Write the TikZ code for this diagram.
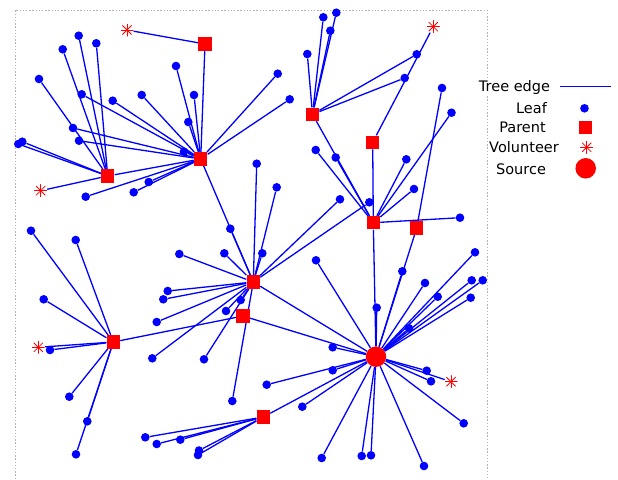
\documentclass[tikz,border=0pt]{standalone}
\usepackage{fontspec}
\newfontfamily\legfont{DejaVu Sans}
\usetikzlibrary{backgrounds}
\begin{document}
\begin{tikzpicture}[x=1pt,y=-1pt,
  edge/.style={draw=blue, line width=1.3pt},
  leaf/.style={circle, fill=blue, inner sep=0pt, minimum size=8.6pt},
  parent/.style={rectangle, fill=red, inner sep=0pt, minimum size=13.5pt},
  source/.style={circle, fill=red, inner sep=0pt, minimum size=20.5pt},
  vol/.style={circle, inner sep=0pt, minimum size=13pt,
    path picture={\foreach \ang in {0,45,90,135}{\draw[red, line width=0.8pt]
      ([shift={(\ang:6.5pt)}]path picture bounding box.center) --
      ([shift={(\ang+180:6.5pt)}]path picture bounding box.center);}}},
  frameline/.style={draw=black!30, line width=0.6pt, dash pattern=on 1.4pt off 1.8pt},
  legtext/.style={anchor=base, inner sep=1pt, fill=white, font=\legfont\fontsize{14.5}{17}\selectfont}
]
\useasboundingbox (0,0) rectangle (618,479);
% frame
\coordinate (fbl) at (15,479);
\coordinate (ftl) at (15,10);
\coordinate (ftr) at (487,10);
\coordinate (fbr) at (487,479);
\draw[frameline] (fbl) -- (ftl) -- (ftr) -- (fbr);

% parents and source
\node[parent] (P1) at (205,44) {};
\node[parent] (P2) at (200.7,159) {};
\node[parent] (P3) at (107.7,176) {};
\node[parent] (P4) at (253.3,282) {};
\node[parent] (P5) at (312.5,114.3) {};
\node[parent] (P6) at (372.7,142.3) {};
\node[parent] (P7) at (373.3,222.7) {};
\node[parent] (P8) at (416.7,228) {};
\node[parent] (P9) at (113.3,342) {};
\node[parent] (P10) at (243,316) {};
\node[parent] (P11) at (263.3,417) {};
\node[source] (S) at (376,356.7) {};

% volunteers
\node[vol] (V1) at (127,30) {};
\node[vol] (V2) at (40.7,190.7) {};
\node[vol] (V3) at (433.3,26.7) {};
\node[vol] (V4) at (38.3,347.3) {};
\node[vol] (V5) at (451,381.7) {};

\begin{scope}[on background layer]
\foreach \a/\b in {V1/P1, V2/P3, V3/P6, V4/P9, V5/S,
  P1/P2, P3/P2, P2/P4, P4/S, P10/S, P9/P10, P11/S, P5/P7, P6/P7, P7/S, P8/S}
  {\draw[edge] (\a) -- (\b);}
\end{scope}

% leaves
\foreach \n/\x/\y/\p in {
  a1/78.7/35.7/P3, a2/96.3/43.3/P3, a3/62.7/49.3/P3, a4/39/79/P3, a5/22.3/141.7/P3, a6/18.3/144/P3,
  b1/81.7/94.3/P2, b2/112.7/100.7/P2, b3/141.7/95/P2, b4/176/66/P2, b5/194/95/P2, b6/188.3/122/P2,
  b7/277.7/73.7/P2, b8/289.7/99.3/P2, b9/73/128/P2, b10/79/140.7/P2, b11/184/151.7/P2,
  b12/148.7/182/P2, b13/133.7/192.3/P2, b14/85.7/196.7/P2,
  c1/256.7/163.7/P4, c2/276.7/187.3/P4, c3/230.3/228.7/P4, c4/179.3/254/P4, c5/224.3/253.3/P4,
  c6/262.3/253.3/P4, c7/167.7/291/P4, c8/163.3/299.3/P4, c9/156.7/322/P4, c10/152.3/358.3/P4,
  c11/240.7/300/P4, c12/226/311/P4, c13/204/359.3/P4, c14/232.3/401/P4, c15/340/199.3/P4,
  c16/369.3/202.3/P4,
  d1/323.3/17.3/P5, d2/336.3/12.7/P5, d3/330.3/30.7/P5, d4/307.3/54/P5, d5/416.7/54.3/P5, d6/404.7/78/P5,
  e1/315.7/150/P7, e2/335.7/157.5/P7, e3/406.3/159.3/P7, e4/414/189/P7, e5/451.5/112.7/P7, e6/460/217.7/P7,
  f1/442/88/P8,
  g1/31/230.7/P9, g2/75.7/240/P9, g3/43.7/299.3/P9, g4/50/350/P9, g5/69.3/396.7/P9, g6/87.3/421.3/P9, g7/76/454.3/P9,
  h1/145.3/437.3/P11, h2/156.7/444/P11, h3/180.3/439.7/P11, h4/199/450.5/P11, h5/198/455/P11,
  s1/475/252.3/S, s2/316/260.3/S, s3/402.3/271.3/S, s4/425/283/S, s5/471.7/280.3/S, s6/482.7/280.3/S,
  s7/437.7/296.7/S, s8/470.7/297.7/S, s9/376.7/307.7/S, s10/409/328.3/S, s11/332.7/347.3/S,
  s12/332.7/370.3/S, s13/426.7/370.7/S, s14/431/381.3/S, s15/302.3/406.7/S, s16/463.7/423.3/S,
  s17/321.7/458/S, s18/361.7/456/S, s19/371/455.3/S, s20/424/466/S, s21/266.7/384.7/S}
{
  \node[leaf] (\n) at (\x,\y) {};
  \begin{pgfonlayer}{background}
    \draw[edge] (\n) -- (\p);
  \end{pgfonlayer}
}

% legend
\node[legtext] (Lt1) at (514.5,91.7) {Tree edge};
\coordinate (le1) at (560,86.7);
\coordinate (le2) at (611,86.7);
\draw[edge, line width=1pt] (le1) -- (le2);
\node[legtext] (Lt2) at (531.5,113.3) {Leaf};
\node[leaf] (Lm2) at (584.5,108.3) {};
\node[legtext] (Lt3) at (522.5,132.7) {Parent};
\node[parent] (Lm3) at (585.3,127.3) {};
\node[legtext] (Lt4) at (524,152.7) {Volunteer};
\node[vol] (Lm4) at (586.7,147.3) {};
\node[legtext] (Lt5) at (521,174) {Source};
\node[source] (Lm5) at (585.7,168.3) {};
\end{tikzpicture}
\end{document}
